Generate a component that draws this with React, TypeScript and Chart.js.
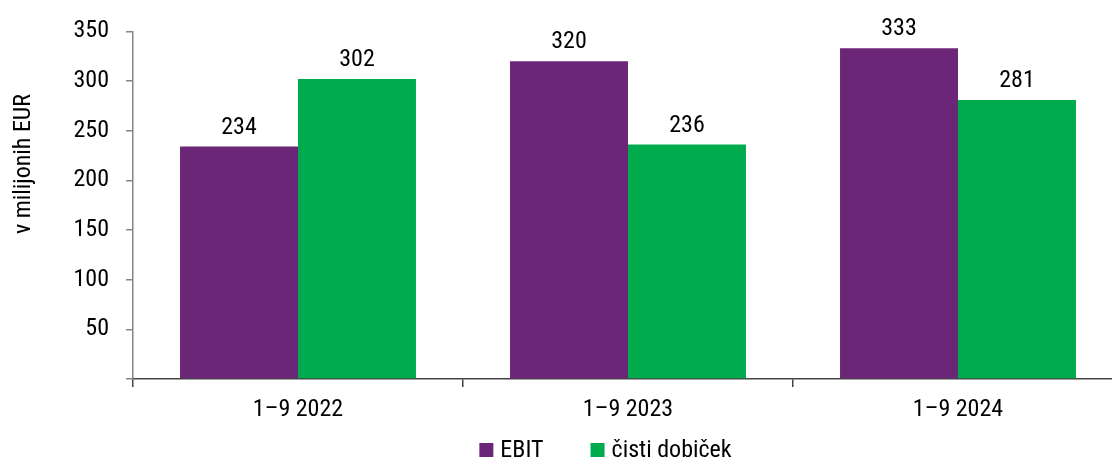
import React, { useEffect, useRef } from "react";
import { Chart, registerables } from "chart.js";

Chart.register(...registerables);

const categories = ["1–9 2022", "1–9 2023", "1–9 2024"];
const ebitValues = [234, 320, 333];
const netProfitValues = [302, 236, 281];
const seriesNames = ["EBIT", "čisti dobiček"];
const seriesColors = ["#6C2677", "#00AB4E"];
const yTicksMax = 350;
const yTicksStep = 50;
const yTitle = "v milijonih EUR";

const FONT = "'Roboto Condensed', 'Liberation Sans', Arial, sans-serif";
const FS = 24;

const extras = {
  id: "extras",
  afterDatasetsDraw(chart: any) {
    const ctx = chart.ctx;
    ctx.save();
    ctx.font = `${FS}px ${FONT}`;
    ctx.fillStyle = "#000";
    ctx.textAlign = "center";
    ctx.textBaseline = "alphabetic";
    chart.data.datasets.forEach((ds: any, i: number) => {
      const meta = chart.getDatasetMeta(i);
      meta.data.forEach((bar: any, j: number) => {
        ctx.fillText(String(ds.data[j]), bar.x, bar.y - 13);
      });
    });
    ctx.restore();
  },
  afterDraw(chart: any) {
    const ctx = chart.ctx;
    ctx.save();
    ctx.font = `${FS}px ${FONT}`;
    ctx.fillStyle = "#000";
    // y axis title
    ctx.translate(24, 164);
    ctx.rotate(-Math.PI / 2);
    ctx.textAlign = "center";
    ctx.textBaseline = "middle";
    ctx.fillText(yTitle, 0, 0);
    ctx.restore();

    // legend
    ctx.save();
    ctx.font = `${FS}px ${FONT}`;
    const box = 14;
    const gapText = 7;
    const gapItem = 47;
    const items = chart.data.datasets.map((ds: any) => ({
      text: ds.label,
      color: ds.backgroundColor,
      w: box + gapText + ctx.measureText(ds.label).width,
    }));
    const total = items.reduce((s: number, it: any) => s + it.w, 0) + gapItem * (items.length - 1);
    let x = 605.5 - total / 2;
    const cy = 450;
    ctx.textBaseline = "middle";
    ctx.textAlign = "left";
    items.forEach((it: any) => {
      ctx.fillStyle = it.color;
      ctx.fillRect(x, cy - box / 2, box, box);
      ctx.fillStyle = "#000";
      ctx.fillText(it.text, x + box + gapText, cy + 1);
      x += it.w + gapItem;
    });
    ctx.restore();
  },
};

export default function App() {
  const ref = useRef<HTMLCanvasElement | null>(null);
  useEffect(() => {
    if (!ref.current) return;
    Chart.defaults.font.family = FONT;
    Chart.defaults.font.size = FS;
    Chart.defaults.color = "#000";
    const chart = new Chart(ref.current, {
      type: "bar",
      data: {
        labels: categories,
        datasets: [
          {
            label: seriesNames[0],
            data: ebitValues,
            backgroundColor: seriesColors[0],
            categoryPercentage: 0.715,
            barPercentage: 1,
          },
          {
            label: seriesNames[1],
            data: netProfitValues,
            backgroundColor: seriesColors[1],
            categoryPercentage: 0.715,
            barPercentage: 1,
          },
        ],
      },
      plugins: [extras],
      options: {
        animation: false,
        responsive: false,
        devicePixelRatio: 1,
        layout: { padding: { top: 29, left: 0, right: 7, bottom: 0 } },
        plugins: {
          legend: { display: false },
          tooltip: { enabled: false },
        },
        scales: {
          x: {
            grid: {
              display: true,
              drawOnChartArea: false,
              offset: true,
              tickLength: 8,
              color: "#444",
              lineWidth: 1.5,
            },
            border: { display: true, color: "#444", width: 1.5 },
            ticks: { padding: 9, font: { size: FS }, color: "#000", maxRotation: 0, autoSkip: false },
            afterFit: (s: any) => {
              s.height = 80;
            },
          },
          y: {
            min: 0,
            max: yTicksMax,
            ticks: {
              stepSize: yTicksStep,
              padding: 17,
              font: { size: FS },
              color: "#000",
              callback: (v: any) => (v === 0 ? "" : String(v)),
            },
            grid: {
              display: true,
              drawOnChartArea: false,
              tickLength: 7,
              color: "#868686",
              lineWidth: 1.5,
            },
            border: { display: true, color: "#868686", width: 1.5 },
            title: { display: false },
            afterFit: (s: any) => {
              s.width = 133;
            },
          },
        },
      },
    } as any);
    return () => chart.destroy();
  }, []);
  return (
    <div
      style={{
        position: "fixed",
        left: 0,
        top: 0,
        width: 1112,
        height: 459,
        overflow: "hidden",
        background: "#fff",
      }}
    >
      <canvas ref={ref} width={1130} height={459} style={{ display: "block" }} />
    </div>
  );
}
